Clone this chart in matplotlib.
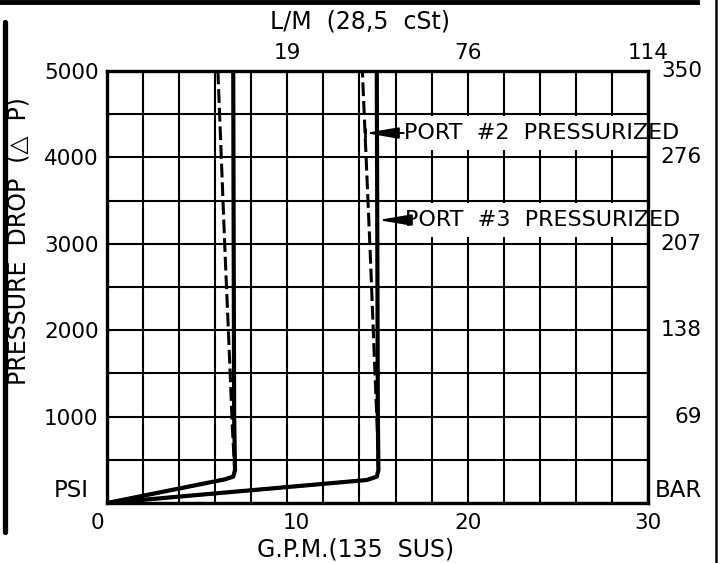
import matplotlib
matplotlib.use("Agg")
import matplotlib.pyplot as plt
from matplotlib.lines import Line2D
import matplotlib.transforms as mtransforms
import numpy as np

plt.rc('font', family='DejaVu Sans', size=15.5)

# flow (GPM) vs pressure drop (PSI)
flow_a_solid = [0, 6.54, 7.0, 7.1, 7.05, 7.0]
dp_a_solid = [0, 274, 305, 382, 1000, 5000]
flow_a_dash = [0, 6.54, 7.0, 7.08, 6.95, 6.83, 6.54, 6.15]
dp_a_dash = [0, 274, 305, 382, 880, 1505, 2928, 5000]

flow_b_solid = [0, 14.4, 14.96, 15.05, 15.02, 14.96]
dp_b_solid = [0, 266, 305, 382, 1000, 5000]
flow_b_dash = [0, 14.4, 14.96, 15.05, 14.98, 14.86, 14.59, 14.16]
dp_b_dash = [0, 266, 305, 382, 900, 1505, 2928, 5000]

gpm_ticks = [0, 10, 20, 30]
lpm_ticks = [10, 20, 30]
lpm_labels = ['19', '76', '114']
psi_ticks = [1000, 2000, 3000, 4000, 5000]
bar_ticks = [150, 1000, 2000, 3000, 4000, 5000]
bar_labels = ['BAR', '69', '138', '207', '276', '350']

port_labels = ['PORT  #2  PRESSURIZED', 'PORT  #3  PRESSURIZED']
port_tip_flow = [14.31, 15.03]
port_tip_dp = [4282, 3275]
port_text_flow = [16.45, 16.55]

fig = plt.figure(figsize=(7.2, 5.63), dpi=100)
ax = fig.add_axes([107 / 720, 1 - 503 / 563, 541 / 720, 432 / 563])

ax.set_xlim(0, 30)
ax.set_ylim(0, 5000)
ax.set_xticks(gpm_ticks)
ax.set_xticks(np.arange(0, 31, 2), minor=True)
ax.set_yticks(psi_ticks)
ax.set_yticks(np.arange(0, 5001, 500), minor=True)
ax.grid(True, which='both', color='black', lw=1.5)
ax.tick_params(which='both', length=0)
ax.tick_params(axis='x', pad=7)
ax.tick_params(axis='y', pad=6)
for s in ax.spines.values():
    s.set_linewidth(2.4)

# the drawing puts "0" and "10" a little off their grid lines
shifts = [-10, 9, 0, 0]
for lbl, dx in zip(ax.get_xticklabels(), shifts):
    lbl.set_transform(lbl.get_transform() + mtransforms.ScaledTranslation(dx / 100, 0, fig.dpi_scale_trans))

# curves
ax.plot(flow_a_solid, dp_a_solid, color='black', lw=3.0, zorder=3, solid_joinstyle='round')
ax.plot(flow_b_solid, dp_b_solid, color='black', lw=3.0, zorder=3, solid_joinstyle='round')
ax.plot(flow_a_dash, dp_a_dash, color='black', lw=2.2, ls=(0, (4.5, 1.6)), zorder=3)
ax.plot(flow_b_dash, dp_b_dash, color='black', lw=2.2, ls=(0, (4.5, 1.6)), zorder=3)

# port annotations
for lab, tx, ty, fx in zip(port_labels, port_tip_flow, port_tip_dp, port_text_flow):
    ax.text(fx, ty, lab, ha='left', va='center', zorder=2.2, fontsize=16,
            bbox=dict(boxstyle='square,pad=0.3', fc='white', ec='none'))
    ax.annotate('', xy=(tx, ty), xytext=(fx, ty), zorder=4,
                arrowprops=dict(arrowstyle='-|>,head_length=1.3,head_width=0.22',
                                color='black', lw=1.4, shrinkA=0, shrinkB=0))
ax.plot(port_tip_flow[:1], port_tip_dp[:1], marker='|', ms=7, mew=2, color='black', zorder=4)

# top axis (L/M)
top = ax.secondary_xaxis('top')
top.set_xticks(lpm_ticks)
top.set_xticklabels(lpm_labels)
top.tick_params(length=0, pad=6)
top.spines['top'].set_visible(False)

# right side bar labels
trans = mtransforms.blended_transform_factory(ax.transAxes, ax.transData)
for v, lab in zip(bar_ticks, bar_labels):
    ax.text((702 - 107) / 541, v, lab, transform=trans, ha='right', va='center',
            fontsize=16.5 if lab == 'BAR' else 15.5)
ax.text((71 - 107) / 541, 150, 'PSI', transform=trans, ha='center', va='center', fontsize=16.5)

fig.text(360 / 720, 1 - 22 / 563, 'L/M  (28,5  cSt)', ha='center', va='center', fontsize=17)
fig.text(356 / 720, 1 - 550 / 563, 'G.P.M.(135  SUS)', ha='center', va='center', fontsize=17)
fig.text(19 / 720, 1 - 241 / 563, 'PRESSURE  DROP  (\u25b3  P)', ha='center', va='center',
         rotation=90, fontsize=17)

# drawing frame
fig.add_artist(Line2D([0, 697 / 720], [1 - 1.5 / 563, 1 - 1.5 / 563], color='black', lw=3.5,
                      transform=fig.transFigure))
fig.add_artist(Line2D([4.5 / 720, 4.5 / 720], [1 - 22 / 563, 1 - 532 / 563], color='black', lw=3.8,
                      transform=fig.transFigure, solid_capstyle='round'))
fig.add_artist(Line2D([716 / 720, 716 / 720], [0, 1], color='black', lw=1.8,
                      transform=fig.transFigure))

fig.savefig('out.png', dpi=100)
